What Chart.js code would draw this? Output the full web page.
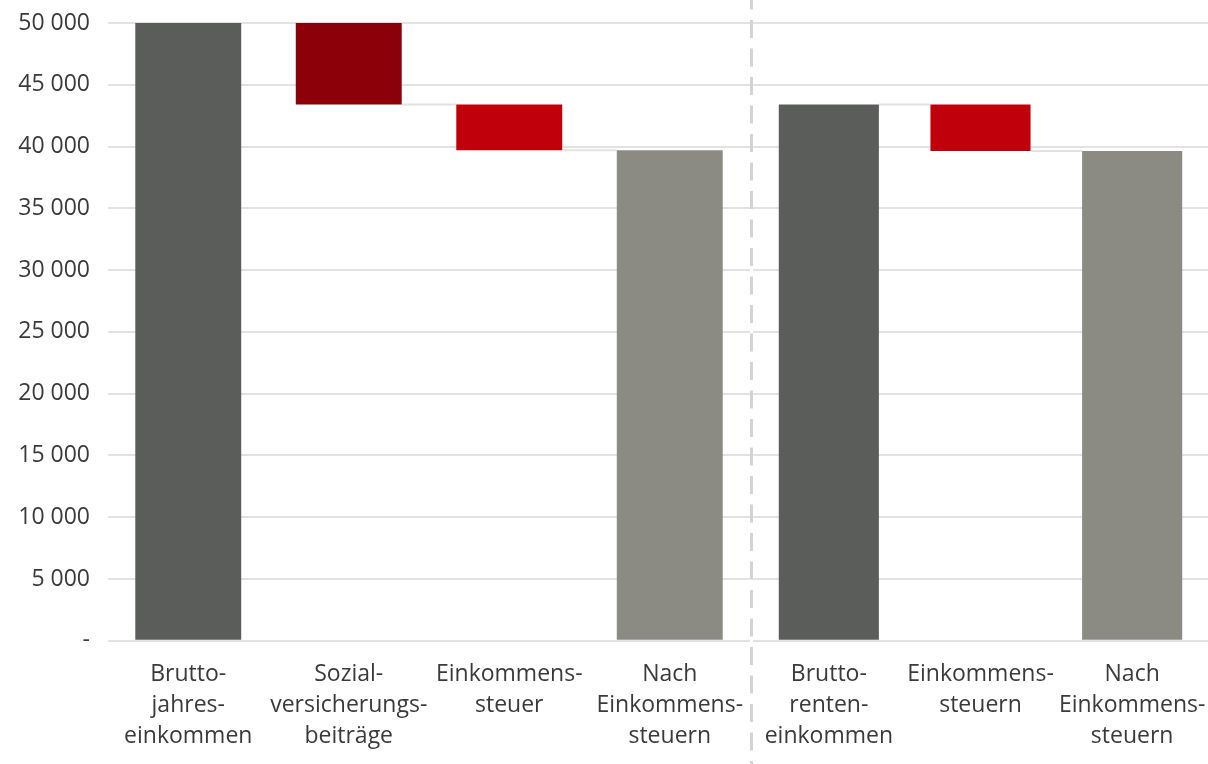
<!DOCTYPE html>
<html lang="de">
<head>
    <meta charset="UTF-8">
    <title>Brutto / Netto</title>
    <script src="https://cdn.jsdelivr.net/npm/chart.js"></script>
    <style>
        body {
            margin: 0;
            padding: 0;
            background: #ffffff;
        }
        .wrap {
            position: relative;
            width: 1208px;
            height: 764px;
        }
        .wrap canvas {
            position: absolute;
            top: 0;
        }
        #links { left: 0; }
        #rechts { left: 750px; }
    </style>
</head>
<body>
    <div class="wrap">
        <canvas id="links" width="754" height="764"></canvas>
        <canvas id="rechts" width="458" height="764"></canvas>
    </div>

    <script>
        // Arbeitseinkommen
        const arbeitKategorien = [
            ['Brutto-', 'jahres-', 'einkommen'],
            ['Sozial-', 'versicherungs-', 'beiträge'],
            ['Einkommens-', 'steuer'],
            ['Nach', 'Einkommens-', 'steuern']
        ];
        const arbeitWerte = [50000, -6600, -3700, 39700];
        const arbeitTyp = ['summe', 'abzug', 'abzug', 'summe'];
        const arbeitFarben = ['#5b5d5b', '#8b0009', '#c0000b', '#8b8b83'];

        // Renteneinkommen
        const renteKategorien = [
            ['Brutto-', 'renten-', 'einkommen'],
            ['Einkommens-', 'steuern'],
            ['Nach', 'Einkommens-', 'steuern']
        ];
        const renteWerte = [43400, -3750, 39650];
        const renteTyp = ['summe', 'abzug', 'summe'];
        const renteFarben = ['#5b5d5b', '#c0000b', '#8b8b83'];

        const yTicks = [0, 5000, 10000, 15000, 20000, 25000, 30000, 35000, 40000, 45000, 50000];

        const schrift = { family: "'Open Sans', 'Noto Sans', sans-serif", size: 23, lineHeight: 1.35 };
        const textFarbe = '#3a3a3a';
        const gitterFarbe = '#e2e2e2';
        const xAbstand = 18;

        // Schwebende Balken fuer den Wasserfall: Summen stehen auf 0, Abzuege haengen am laufenden Stand
        function wasserfall(werte, typ) {
            let stand = 0;
            return werte.map((w, i) => {
                if (typ[i] === 'summe') {
                    stand = w;
                    return [0, w];
                }
                const von = stand;
                stand = stand + w;
                return [stand, von];
            });
        }

        function tausender(v) {
            if (v === 0) return '-';
            return String(v).replace(/\B(?=(\d{3})+(?!\d))/g, ' ');
        }

        // keine automatische Randzugabe fuer ueberstehende Beschriftungen,
        // damit beide Diagramme dieselbe Plotflaeche haben
        function ohneRand(axis) {
            axis.paddingLeft = 0;
            axis.paddingRight = 0;
            axis.paddingTop = 0;
            axis.paddingBottom = 0;
        }

        // Verbindungslinien zwischen den Balken auf Hoehe des jeweiligen Stands
        const verbinder = {
            id: 'verbinder',
            beforeDatasetsDraw(chart) {
                const ctx = chart.ctx;
                const meta = chart.getDatasetMeta(0);
                const daten = chart.data.datasets[0].data;
                const typ = chart.options.plugins.verbinder.typ;
                const y = chart.scales.y;
                ctx.save();
                ctx.strokeStyle = gitterFarbe;
                ctx.lineWidth = 2;
                for (let i = 0; i < meta.data.length - 1; i++) {
                    const a = meta.data[i];
                    const b = meta.data[i + 1];
                    const stand = typ[i] === 'summe' ? daten[i][1] : daten[i][0];
                    const py = y.getPixelForValue(stand);
                    ctx.beginPath();
                    ctx.moveTo(a.x + a.width / 2, py);
                    ctx.lineTo(b.x - b.width / 2, py);
                    ctx.stroke();
                }
                ctx.restore();
            }
        };

        // Gestrichelte Trennlinie rechts neben dem Arbeitsteil
        const trennlinie = {
            id: 'trennlinie',
            afterDraw(chart) {
                if (!chart.options.plugins.trennlinie.zeigen) return;
                const ctx = chart.ctx;
                const x = chart.chartArea.right + 1.5;
                ctx.save();
                ctx.strokeStyle = '#d3d3d3';
                ctx.lineWidth = 3;
                ctx.setLineDash([18, 10.5]);
                ctx.beginPath();
                ctx.moveTo(x, -8.5);
                ctx.lineTo(x, chart.height);
                ctx.stroke();
                ctx.restore();
            }
        };

        function baueChart(id, kategorien, werte, typ, farben, mitAchse) {
            return new Chart(document.getElementById(id), {
                type: 'bar',
                data: {
                    labels: kategorien,
                    datasets: [{
                        data: wasserfall(werte, typ),
                        backgroundColor: farben,
                        borderWidth: 0,
                        borderSkipped: false,
                        categoryPercentage: 1,
                        barPercentage: 0.66
                    }]
                },
                options: {
                    responsive: false,
                    animation: false,
                    layout: {
                        padding: { top: 23, right: mitAchse ? 4 : 0, bottom: 12, left: mitAchse ? 0 : 3 }
                    },
                    plugins: {
                        legend: { display: false },
                        tooltip: { enabled: false },
                        verbinder: { typ: typ },
                        trennlinie: { zeigen: mitAchse }
                    },
                    scales: {
                        x: {
                            afterFit(axis) {
                                ohneRand(axis);
                                // Chart.js rechnet den Abstand doppelt ein
                                axis.height -= xAbstand;
                            },
                            grid: { display: false, drawTicks: false },
                            border: { display: false },
                            ticks: {
                                color: textFarbe,
                                font: schrift,
                                padding: xAbstand,
                                maxRotation: 0,
                                autoSkip: false
                            }
                        },
                        y: {
                            min: 0,
                            max: 50000,
                            afterFit(axis) {
                                ohneRand(axis);
                                axis.width = mitAchse ? 108 : 0;
                            },
                            afterBuildTicks(axis) { axis.ticks = yTicks.map(v => ({ value: v })); },
                            grid: {
                                color: gitterFarbe,
                                lineWidth: 2,
                                drawTicks: false
                            },
                            border: { display: false },
                            ticks: {
                                display: mitAchse,
                                color: textFarbe,
                                font: schrift,
                                padding: 18,
                                callback: v => tausender(v)
                            }
                        }
                    }
                },
                plugins: [verbinder, trennlinie]
            });
        }

        baueChart('links', arbeitKategorien, arbeitWerte, arbeitTyp, arbeitFarben, true);
        baueChart('rechts', renteKategorien, renteWerte, renteTyp, renteFarben, false);
    </script>
</body>
</html>
